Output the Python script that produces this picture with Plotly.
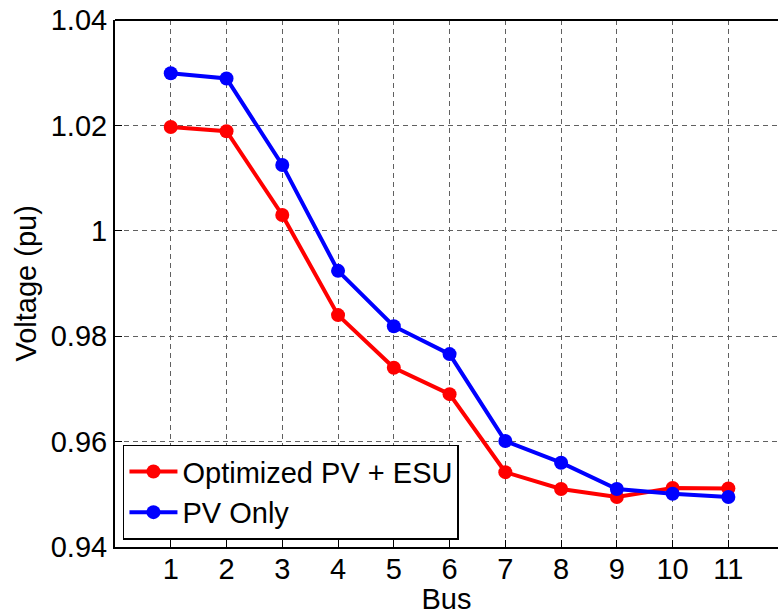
import plotly.graph_objects as go

bus = [1, 2, 3, 4, 5, 6, 7, 8, 9, 10, 11]
optimized_pv_esu = [1.0197, 1.0189, 1.0030, 0.9840, 0.9740, 0.9690, 0.9542, 0.9510, 0.9495, 0.9512, 0.9511]
pv_only = [1.0299, 1.0289, 1.0125, 0.9924, 0.9819, 0.9766, 0.9601, 0.9560, 0.9510, 0.9501, 0.9495]
y_ticks = [0.94, 0.96, 0.98, 1.00, 1.02, 1.04]
y_tick_text = ["0.94", "0.96", "0.98", "1", "1.02", "1.04"]

FONT = "Liberation Sans, Arial, sans-serif"
GRID = "#606060"
X_RANGE = [0, 11.89]

fig = go.Figure()
fig.add_trace(go.Scatter(x=bus, y=optimized_pv_esu, mode="lines+markers",
                         name="Optimized PV + ESU",
                         line=dict(color="#ff0000", width=4),
                         marker=dict(color="#ff0000", size=14, symbol="circle")))
fig.add_trace(go.Scatter(x=bus, y=pv_only, mode="lines+markers",
                         name="PV Only",
                         line=dict(color="#0000ff", width=4),
                         marker=dict(color="#0000ff", size=14, symbol="circle")))

fig.update_layout(
    width=778, height=615,
    margin=dict(l=115, r=0, t=20, b=68),
    paper_bgcolor="white", plot_bgcolor="white",
    font=dict(family=FONT, size=29, color="black"),
    showlegend=True,
    legend=dict(x=0.012, y=0.014, xanchor="left", yanchor="bottom",
                bgcolor="white", bordercolor="black", borderwidth=1.5,
                font=dict(family=FONT, size=29, color="black"),
                tracegroupgap=0, itemwidth=48),
    xaxis=dict(range=X_RANGE, tickvals=bus, ticktext=[str(b) for b in bus],
               showgrid=True, gridcolor=GRID, griddash="5px,4px", gridwidth=1,
               showline=True, linecolor="black", linewidth=2, mirror=False,
               ticks="inside", ticklen=7, tickcolor="black", tickwidth=1,
               ticklabelstandoff=-5,
               zeroline=False,
               title=dict(text="Bus", standoff=2, font=dict(size=29))),
    xaxis2=dict(range=X_RANGE, tickvals=bus, overlaying="x", side="top",
                showticklabels=False, showgrid=False, showline=False,
                ticks="inside", ticklen=7, tickcolor="black", tickwidth=1,
                zeroline=False),
    yaxis=dict(range=[0.94, 1.04], tickvals=y_ticks, ticktext=y_tick_text,
               showgrid=True, gridcolor=GRID, griddash="5px,4px", gridwidth=1,
               showline=True, linecolor="black", linewidth=2, mirror=False,
               ticks="inside", ticklen=7, tickcolor="black", tickwidth=1,
               zeroline=False),
    shapes=[dict(type="line", xref="paper", yref="paper", x0=0, x1=1, y0=1, y1=1,
                 line=dict(color="black", width=2), layer="above")],
    annotations=[dict(text="Voltage (pu)", textangle=-90, showarrow=False,
                      xref="paper", yref="paper", x=-0.1357, y=0.5,
                      xanchor="center", yanchor="middle",
                      font=dict(family=FONT, size=29, color="black"))],
)

fig.write_html("out.html")
